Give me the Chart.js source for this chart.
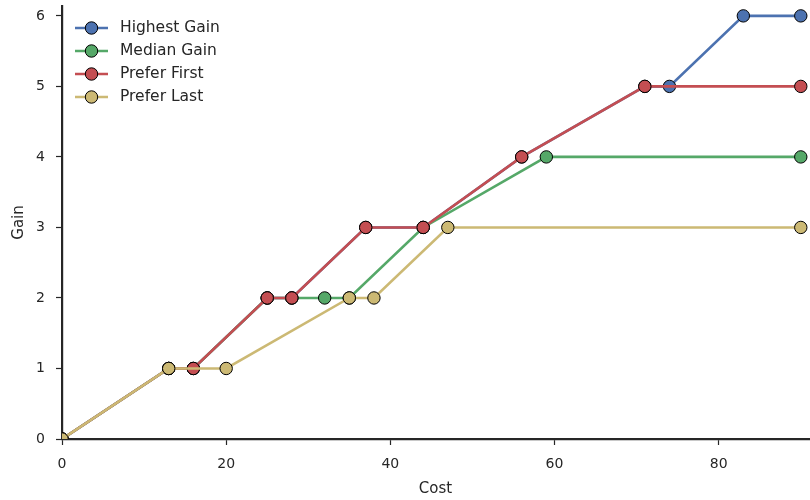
<!DOCTYPE html>
<html>
<head>
<meta charset="utf-8">
<script src="https://cdn.jsdelivr.net/npm/chart.js@4/dist/chart.umd.min.js"></script>
<style>
  html, body { margin: 0; padding: 0; background: #ffffff; }
  #wrap { width: 810px; height: 500px; position: relative; }
</style>
</head>
<body>
<div id="wrap"><canvas id="c" width="810" height="500"></canvas></div>
<script>
// Series data: cost (x) and gain (y) for each strategy
const seriesNames = ["Highest Gain", "Median Gain", "Prefer First", "Prefer Last"];
const seriesColors = ["#4C72B0", "#55A868", "#C44E52", "#CCB974"];

const highestCost = [0, 13, 16, 25, 28, 37, 44, 56, 71, 74, 83, 90];
const highestGain = [0, 1, 1, 2, 2, 3, 3, 4, 5, 5, 6, 6];

const medianCost = [0, 13, 16, 25, 28, 32, 35, 44, 59, 90];
const medianGain = [0, 1, 1, 2, 2, 2, 2, 3, 4, 4];

const firstCost = [0, 13, 16, 25, 28, 37, 44, 56, 71, 90];
const firstGain = [0, 1, 1, 2, 2, 3, 3, 4, 5, 5];

const lastCost = [0, 13, 20, 35, 38, 47, 90];
const lastGain = [0, 1, 1, 2, 2, 3, 3];

const xTicks = [0, 20, 40, 60, 80];
const yTicks = [0, 1, 2, 3, 4, 5, 6];

const costs = [highestCost, medianCost, firstCost, lastCost];
const gains = [highestGain, medianGain, firstGain, lastGain];

const FONT = "'DejaVu Sans', sans-serif";
const INK = "#262626";

const datasets = seriesNames.map((name, i) => ({
  label: name,
  data: costs[i].map((c, j) => ({ x: c, y: gains[i][j] })),
  borderColor: seriesColors[i],
  backgroundColor: seriesColors[i],
  borderWidth: 2.6,
  pointRadius: 6.2,
  pointHoverRadius: 6.2,
  pointBorderColor: "#000000",
  pointBorderWidth: 1,
  pointBackgroundColor: seriesColors[i],
  tension: 0,
  clip: 0,
  // later series are painted over earlier ones
  order: seriesNames.length - i
}));

// Legend drawn in the upper-left corner of the plot area
const cornerLegend = {
  id: "cornerLegend",
  afterDatasetsDraw(chart) {
    const ctx = chart.ctx;
    ctx.save();
    ctx.font = "15.5px " + FONT;
    ctx.textBaseline = "middle";
    ctx.textAlign = "left";
    seriesNames.forEach((name, i) => {
      const y = 28 + i * 23;
      ctx.strokeStyle = seriesColors[i];
      ctx.lineWidth = 2.6;
      ctx.beginPath();
      ctx.moveTo(75, y);
      ctx.lineTo(108, y);
      ctx.stroke();
      ctx.beginPath();
      ctx.arc(91.5, y, 6.2, 0, Math.PI * 2);
      ctx.fillStyle = seriesColors[i];
      ctx.fill();
      ctx.lineWidth = 1;
      ctx.strokeStyle = "#000000";
      ctx.stroke();
      ctx.fillStyle = INK;
      ctx.fillText(name, 120, y);
    });
    ctx.restore();
  }
};

new Chart(document.getElementById("c"), {
  type: "line",
  data: { datasets },
  plugins: [cornerLegend],
  options: {
    responsive: false,
    animation: false,
    events: [],
    layout: { autoPadding: false, padding: { top: 6, right: 1, left: 0, bottom: 0 } },
    plugins: {
      legend: { display: false },
      tooltip: { enabled: false }
    },
    scales: {
      x: {
        type: "linear",
        min: 0,
        max: 91,
        afterBuildTicks(scale) { scale.ticks = xTicks.map(v => ({ value: v })); },
        afterFit(scale) {
          scale.height = 61;
          scale.paddingLeft = 0;
          scale.paddingRight = 0;
        },
        ticks: {
          color: INK,
          font: { family: FONT, size: 14 },
          padding: 11,
          maxRotation: 0
        },
        grid: {
          drawOnChartArea: false,
          drawTicks: true,
          tickLength: 6,
          tickWidth: 1.2,
          tickColor: INK
        },
        border: { display: true, color: INK, width: 2.2 },
        title: {
          display: true,
          text: "Cost",
          color: INK,
          font: { family: FONT, size: 15 },
          padding: { top: 2, bottom: 2 }
        }
      },
      y: {
        type: "linear",
        min: 0,
        max: 6.14,
        afterBuildTicks(scale) { scale.ticks = yTicks.map(v => ({ value: v })); },
        afterFit(scale) {
          scale.width = 62;
          scale.paddingTop = 0;
          scale.paddingBottom = 0;
        },
        ticks: {
          color: INK,
          font: { family: FONT, size: 14 },
          padding: 11
        },
        grid: {
          drawOnChartArea: false,
          drawTicks: true,
          tickLength: 6,
          tickWidth: 1.2,
          tickColor: INK
        },
        border: { display: true, color: INK, width: 2.2 },
        title: {
          display: true,
          text: "Gain",
          color: INK,
          font: { family: FONT, size: 15 },
          padding: { top: 10, bottom: 4 }
        }
      }
    }
  }
});
</script>
</body>
</html>
